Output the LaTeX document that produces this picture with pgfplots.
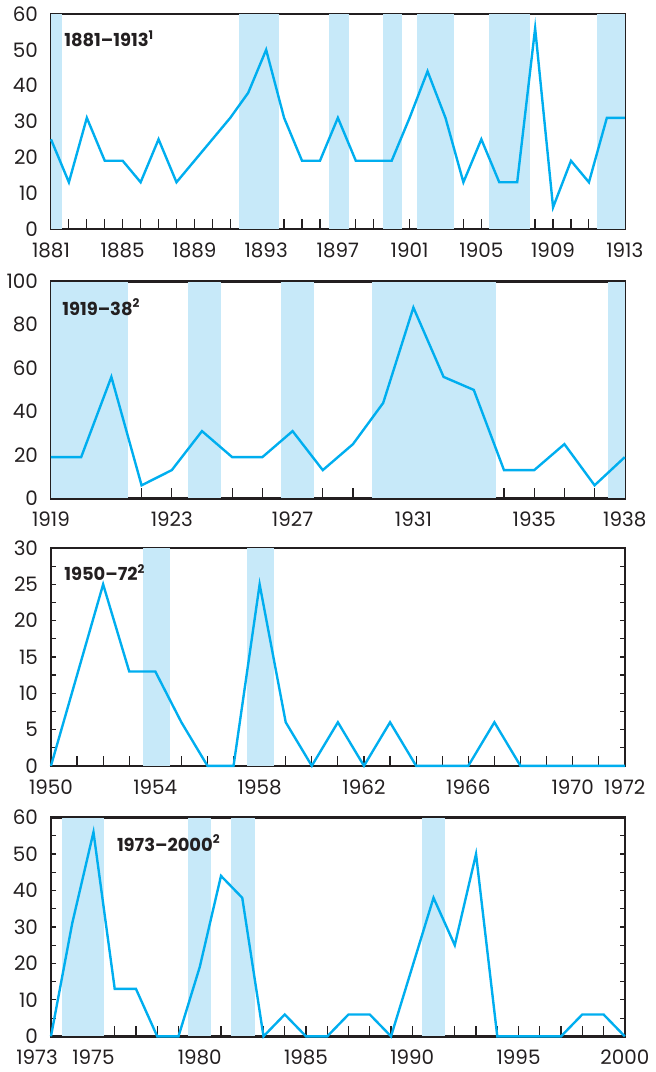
\documentclass[border=0pt]{standalone}
\usepackage{fontspec}
\setmainfont{Poppins}
\usepackage{pgfplots}
\pgfplotsset{compat=1.18}
\definecolor{linec}{HTML}{00AEEF}
\definecolor{bandc}{HTML}{C7E9F9}
\definecolor{framec}{HTML}{231F20}
\tikzset{ttl/.style={anchor=north west, font=\bfseries\fontsize{9}{10}\selectfont, text=framec, inner sep=0pt}}
\pgfplotsset{
  layers/mylayers/.define layer set={axis background,axis grid,pre main,main,axis ticks,axis lines,axis tick labels,axis descriptions,axis foreground}{},
  panel/.style={
    set layers=mylayers,
    scale only axis, width=288.5pt, anchor=north west,
    axis line style={draw=framec, line width=1.2pt},
    clip=false,
    tick align=inside, xtick pos=bottom, ytick pos=both,
    major tick length=2.5pt, minor tick length=2.5pt,
    tick style={draw=framec, line width=0.6pt},
    xtick style={/pgfplots/major tick length=5pt,/pgfplots/minor tick length=5pt},
    ticklabel style={font=\fontsize{10}{11}\selectfont, text=framec},
    y tick label style={xshift=-3pt},
    x tick label style={yshift=-3.5pt},
    /pgf/number format/assume math mode=true,
    /pgf/number format/1000 sep={},
    ymin=0,
  },
  band/.style={fill=bandc, draw=none, forget plot},
  series/.style={linec, line width=1.2pt, mark=none, line join=miter, on layer=axis foreground},
}
\begin{document}
\begin{tikzpicture}
% Panel 1
\begin{axis}[panel, at={(0pt,0pt)}, height=108pt,
  xmin=1881, xmax=1913, ymax=60,
  xtick={1881,1885,...,1913}, minor xtick={1881,...,1913},
  ytick={0,10,...,60}, minor ytick={5,15,...,55}]
\addplot[band] coordinates {(1881,0)(1881,60)(1881.63,60)(1881.63,0)} -- cycle;
\addplot[band] coordinates {(1891.5,0)(1891.5,60)(1893.7,60)(1893.7,0)} -- cycle;
\addplot[band] coordinates {(1896.5,0)(1896.5,60)(1897.6,60)(1897.6,0)} -- cycle;
\addplot[band] coordinates {(1899.5,0)(1899.5,60)(1900.6,60)(1900.6,0)} -- cycle;
\addplot[band] coordinates {(1901.4,0)(1901.4,60)(1903.5,60)(1903.5,0)} -- cycle;
\addplot[band] coordinates {(1905.4,0)(1905.4,60)(1907.7,60)(1907.7,0)} -- cycle;
\addplot[band] coordinates {(1911.45,0)(1911.45,60)(1913,60)(1913,0)} -- cycle;
\addplot[series] coordinates {
(1881,25)(1882,13)(1883,31)(1884,19)(1885,19)(1886,13)(1887,25)(1888,13)
(1889,19)(1890,25)(1891,31)(1892,38)(1893,50)(1894,31)(1895,19)(1896,19)
(1897,31)(1898,19)(1899,19)(1900,19)(1901,31)(1902,44)(1903,31)(1904,13)
(1905,25)(1906,13)(1907,13)(1908,56)(1909,6)(1910,19)(1911,13)(1912,31)(1913,31)};
\node[ttl] at (rel axis cs:0,1) [xshift=6.5pt, yshift=-8pt] {1881–1913\textsuperscript{1}};
\end{axis}
% Panel 2
\begin{axis}[panel, at={(0pt,-134.5pt)}, height=109pt,
  xmin=1919, xmax=1938, ymax=100,
  xtick={1919,1923,1927,1931,1935,1938}, minor xtick={1919,...,1938},
  ytick={0,20,...,100}, minor ytick={10,30,...,90}]
\addplot[band] coordinates {(1919,0)(1919,100)(1921.56,100)(1921.56,0)} -- cycle;
\addplot[band] coordinates {(1923.54,0)(1923.54,100)(1924.63,100)(1924.63,0)} -- cycle;
\addplot[band] coordinates {(1926.6,0)(1926.6,100)(1927.7,100)(1927.7,0)} -- cycle;
\addplot[band] coordinates {(1929.64,0)(1929.64,100)(1933.72,100)(1933.72,0)} -- cycle;
\addplot[band] coordinates {(1937.43,0)(1937.43,100)(1938,100)(1938,0)} -- cycle;
\addplot[series] coordinates {
(1919,19)(1920,19)(1921,56)(1922,6)(1923,13)(1924,31)(1925,19)(1926,19)
(1927,31)(1928,13)(1929,25)(1930,44)(1931,88)(1932,56)(1933,50)(1934,13)
(1935,13)(1936,25)(1937,6)(1938,19)};
\node[ttl] at (rel axis cs:0,1) [xshift=5.5pt, yshift=-8.5pt] {1919–38\textsuperscript{2}};
\end{axis}
% Panel 3
\begin{axis}[panel, at={(0pt,-268.5pt)}, height=109.5pt,
  xmin=1950, xmax=1972, ymax=30,
  xtick={1950,1954,...,1970,1972}, minor xtick={1950,...,1972},
  ytick={0,5,...,30}, minor ytick={2.5,7.5,...,27.5}]
\addplot[band] coordinates {(1953.53,0)(1953.53,30)(1954.55,30)(1954.55,0)} -- cycle;
\addplot[band] coordinates {(1957.53,0)(1957.53,30)(1958.55,30)(1958.55,0)} -- cycle;
\addplot[series] coordinates {
(1950,0)(1951,12.5)(1952,25)(1953,13)(1954,13)(1955,6)(1956,0)(1957,0)
(1958,25)(1959,6)(1960,0)(1961,6)(1962,0)(1963,6)(1964,0)(1965,0)(1966,0)
(1967,6)(1968,0)(1969,0)(1970,0)(1971,0)(1972,0)};
\node[ttl] at (rel axis cs:0,1) [xshift=6.5pt, yshift=-8pt] {1950–72\textsuperscript{2}};
\end{axis}
% Panel 4
\begin{axis}[panel, at={(0pt,-404pt)}, height=110pt,
  xmin=1973, xmax=2000, ymax=60,
  xtick={1975,1980,...,2000}, minor xtick={1973,...,2000},
  extra x ticks={1973}, extra x tick labels={1973},
  extra x tick style={x tick label style={xshift=-7pt}},
  ytick={0,10,...,60}, minor ytick={5,15,...,55}]
\addplot[band] coordinates {(1973.5,0)(1973.5,60)(1975.5,60)(1975.5,0)} -- cycle;
\addplot[band] coordinates {(1979.47,0)(1979.47,60)(1980.52,60)(1980.52,0)} -- cycle;
\addplot[band] coordinates {(1981.48,0)(1981.48,60)(1982.58,60)(1982.58,0)} -- cycle;
\addplot[band] coordinates {(1990.46,0)(1990.46,60)(1991.54,60)(1991.54,0)} -- cycle;
\addplot[series] coordinates {
(1973,0)(1974,31)(1975,56)(1976,13)(1977,13)(1978,0)(1979,0)(1980,19)
(1981,44)(1982,38)(1983,0)(1984,6)(1985,0)(1986,0)(1987,6)(1988,6)(1989,0)
(1990,19)(1991,38)(1992,25)(1993,50)(1994,0)(1995,0)(1996,0)(1997,0)
(1998,6)(1999,6)(2000,0)};
\node[ttl] at (rel axis cs:0,1) [xshift=33pt, yshift=-8.5pt] {1973–2000\textsuperscript{2}};
\end{axis}
\end{tikzpicture}
\end{document}
